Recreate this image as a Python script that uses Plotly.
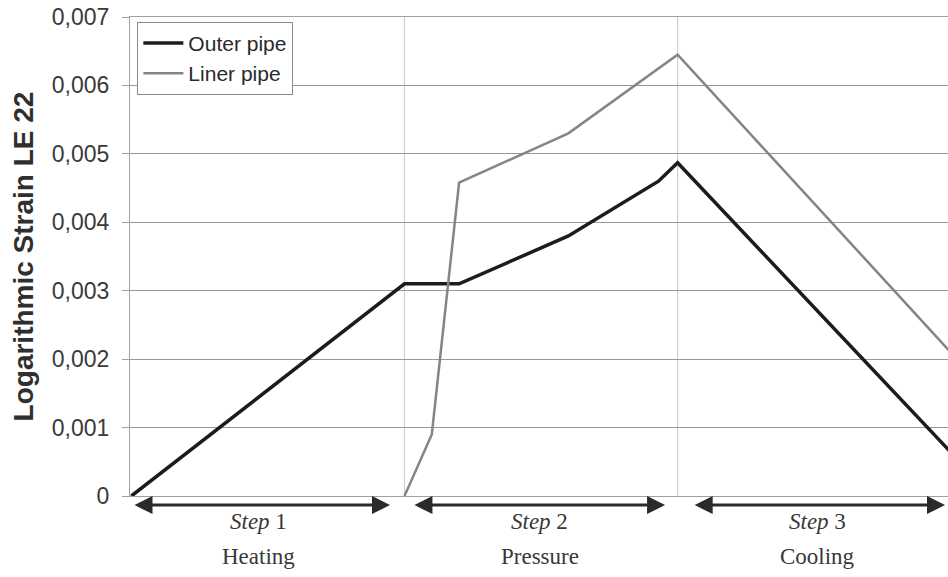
import plotly.graph_objects as go

# Pseudo-time through the three load steps (1 unit per step)
outer_t = [0.0, 1.0, 1.2, 1.6, 1.93, 2.0, 3.0]
outer_le22 = [0.0, 0.0031, 0.0031, 0.0038, 0.0046, 0.00487, 0.00064]

liner_t = [1.0, 1.1, 1.2, 1.6, 2.0, 3.0]
liner_le22 = [0.0, 0.0009, 0.00458, 0.0053, 0.00645, 0.0021]

tick_vals = [0, 0.001, 0.002, 0.003, 0.004, 0.005, 0.006, 0.007]
tick_text = ["0", "0,001", "0,002", "0,003", "0,004", "0,005", "0,006", "0,007"]

step_bounds = [(0.0, 1.0), (1.0, 2.0), (2.0, 3.0)]
step_numbers = ["1", "2", "3"]
step_names = ["Heating", "Pressure", "Cooling"]

# insets of each step arrow from the step bounds, and label offsets from the step middle
arrow_insets = [(0.006, 0.053), (0.031, 0.046), (0.057, 0.021)]
label_shift = [-0.036, -0.004, 0.014]

fig = go.Figure()
fig.add_trace(go.Scatter(
    x=outer_t, y=outer_le22, mode="lines", name="Outer pipe",
    line=dict(color="#1c1c1c", width=3.5), legendgroup="a",
))
fig.add_trace(go.Scatter(
    x=liner_t, y=liner_le22, mode="lines", name="Liner pipe",
    line=dict(color="#858585", width=2.5), legendgroup="b",
))

# step boundaries
for lo, hi in step_bounds[1:]:
    fig.add_shape(type="line", x0=lo, x1=lo, y0=0, y1=1, yref="paper",
                  line=dict(color="#cfcfcf", width=1.2), layer="below")

serif = "Liberation Serif"
for (lo, hi), (a, b), dx, num, name in zip(step_bounds, arrow_insets, label_shift,
                                           step_numbers, step_names):
    # double-headed arrow spanning the step
    fig.add_annotation(
        x=hi - b, y=-0.019, xref="x", yref="paper",
        ax=lo + a, ay=0, axref="x", ayref="pixel",
        showarrow=True, arrowhead=2, startarrowhead=2, arrowside="end+start",
        arrowsize=1.2, startarrowsize=1.2, arrowwidth=3, arrowcolor="#2a2a2a",
        text="",
    )
    mid = (lo + hi) / 2 + dx
    fig.add_annotation(
        x=mid, y=-0.054, xref="x", yref="paper", showarrow=False,
        text=f"<i>Step</i> {num}", yanchor="middle",
        font=dict(family=serif, size=23, color="#383838"),
    )
    fig.add_annotation(
        x=mid, y=-0.127, xref="x", yref="paper", showarrow=False,
        text=name, yanchor="middle",
        font=dict(family=serif, size=23, color="#383838"),
    )

fig.update_layout(
    width=948, height=577,
    margin=dict(l=130, r=0, t=17, b=81),
    paper_bgcolor="white", plot_bgcolor="white",
    showlegend=True,
    legend=dict(
        x=0.009, y=0.99, xanchor="left", yanchor="top",
        bordercolor="#8a8a8a", borderwidth=1, bgcolor="white",
        font=dict(family="Liberation Sans", size=21, color="#2a2a2a"),
        tracegroupgap=0, itemwidth=40,
    ),
    xaxis=dict(
        range=[-0.005, 2.99], showgrid=False, zeroline=False, showticklabels=False,
        ticks="", showline=True, mirror=True, linecolor="#a0a0a0", linewidth=1,
    ),
    yaxis=dict(
        range=[0, 0.007], tickvals=tick_vals, ticktext=tick_text,
        showgrid=True, gridcolor="#9696a8", gridwidth=1, zeroline=False,
        showline=True, linecolor="#a0a0a0", linewidth=1,
        ticks="outside", ticklen=7, tickcolor="#a0a0a0",
        ticklabelstandoff=8,
        tickfont=dict(family="Liberation Sans", size=23, color="#3a3a3a"),
        title=dict(text="<b>Logarithmic Strain LE 22</b>", standoff=10,
                   font=dict(family="Liberation Sans", size=28, color="#2f2f2f")),
    ),
)

fig.write_html("out.html")
